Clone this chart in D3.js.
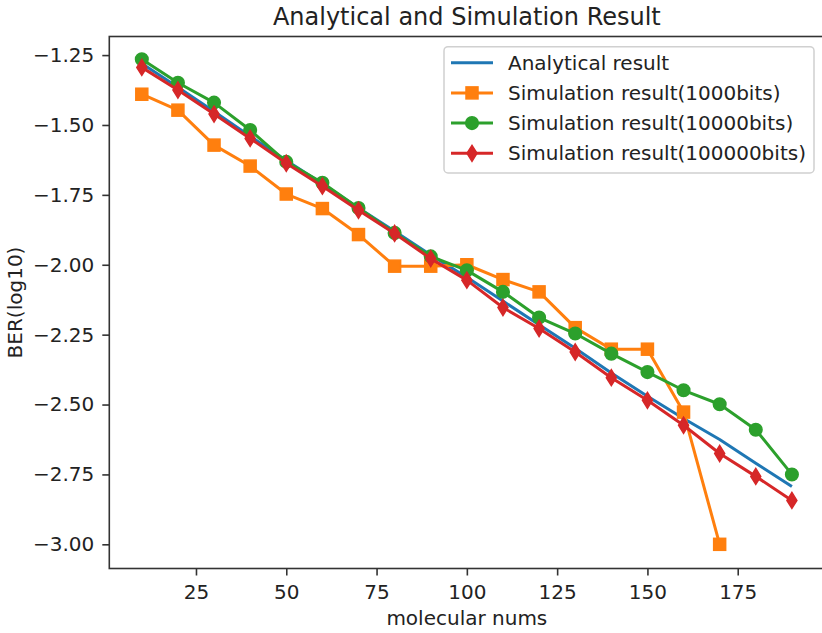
<!DOCTYPE html>
<html>
<head>
<meta charset="utf-8">
<script src="https://cdn.jsdelivr.net/npm/d3@7"></script>
<style>
  html, body { margin: 0; padding: 0; background: #fff; }
  svg { display: block; font-family: 'DejaVu Sans', sans-serif; }
</style>
</head>
<body>
<svg id="chart" width="822" height="633"></svg>
<script>
// values
const molecularNums = [10, 20, 30, 40, 50, 60, 70, 80, 90, 100, 110, 120, 130, 140, 150, 160, 170, 180, 190]
const analytical = [-1.28, -1.365, -1.452, -1.54, -1.627, -1.71, -1.797, -1.88, -1.965, -2.045, -2.13, -2.215, -2.299, -2.387, -2.47, -2.55, -2.625, -2.71, -2.793]
const sim1000 = [-1.39, -1.447, -1.572, -1.647, -1.747, -1.799, -1.892, -2.005, -2.005, -2.0, -2.053, -2.097, -2.225, -2.302, -2.302, -2.527, -3.0]
const sim10000 = [-1.265, -1.349, -1.42, -1.518, -1.632, -1.707, -1.797, -1.886, -1.97, -2.02, -2.097, -2.189, -2.246, -2.318, -2.384, -2.449, -2.499, -2.59, -2.75]
const sim100000 = [-1.294, -1.375, -1.461, -1.548, -1.637, -1.719, -1.805, -1.888, -1.978, -2.055, -2.153, -2.228, -2.312, -2.404, -2.485, -2.574, -2.675, -2.757, -2.843]
const xTicks = [25, 50, 75, 100, 125, 150, 175]
const yTicks = [-3.0, -2.75, -2.5, -2.25, -2.0, -1.75, -1.5, -1.25]

const series = [
  { name: 'Analytical result', values: analytical, color: '#1f77b4', marker: null },
  { name: 'Simulation result(1000bits)', values: sim1000, color: '#ff7f0e', marker: 'square' },
  { name: 'Simulation result(10000bits)', values: sim10000, color: '#2ca02c', marker: 'circle' },
  { name: 'Simulation result(100000bits)', values: sim100000, color: '#d62728', marker: 'diamond' }
]

const box = { left: 109.3, right: 824.4, top: 36.5, bottom: 568.5 }

const x = d3.scaleLinear().domain([1, 199]).range([box.left, box.right])
const y = d3.scaleLinear().domain([-3.0865, -1.1835]).range([box.bottom, box.top])

const svg = d3.select('#chart')
const minus = (v) => v.toFixed(2).replace('-', '\u2212')

/**
 * Appends one marker shape to a selection at (cx, cy).
 *
 * @param {*} sel The parent selection
 * @param {string} kind square, circle or diamond
 * @param {string} color Fill and stroke colour
 */
function addMarker (sel, kind, color, cx, cy) {
  if (kind === 'square') {
    sel.append('rect')
      .attr('x', cx - 6).attr('y', cy - 6)
      .attr('width', 12).attr('height', 12)
      .attr('fill', color).attr('stroke', color).attr('stroke-width', 1.5)
  } else if (kind === 'circle') {
    sel.append('circle')
      .attr('cx', cx).attr('cy', cy).attr('r', 6.3)
      .attr('fill', color).attr('stroke', color).attr('stroke-width', 1.5)
  } else if (kind === 'diamond') {
    sel.append('path')
      .attr('d', `M${cx},${cy - 8}L${cx + 5},${cy}L${cx},${cy + 8}L${cx - 5},${cy}Z`)
      .attr('fill', color).attr('stroke', color).attr('stroke-width', 1.5)
      .attr('stroke-linejoin', 'miter')
  }
}

// axes
const xAxis = svg.append('g').attr('transform', `translate(0,${box.bottom})`)
  .call(d3.axisBottom(x).tickValues(xTicks).tickSize(7).tickPadding(9).tickFormat(d3.format('d')))
const yAxis = svg.append('g').attr('transform', `translate(${box.left},0)`)
  .call(d3.axisLeft(y).tickValues(yTicks).tickSize(7).tickPadding(8).tickFormat(minus))

;[xAxis, yAxis].forEach((ax) => {
  ax.select('.domain').remove()
  ax.selectAll('line').attr('stroke', '#333').attr('stroke-width', 1.6)
  ax.selectAll('text').attr('fill', '#222').style('font-size', '20px').style('font-family', 'DejaVu Sans')
})

// spines (right one falls outside the picture)
svg.append('rect')
  .attr('x', box.left).attr('y', box.top)
  .attr('width', box.right - box.left).attr('height', box.bottom - box.top)
  .attr('fill', 'none').attr('stroke', '#333').attr('stroke-width', 1.6)

// lines and markers
const line = d3.line().x((d) => x(d[0])).y((d) => y(d[1]))
series.forEach((s) => {
  const pts = s.values.map((v, i) => [molecularNums[i], v])
  svg.append('path')
    .datum(pts)
    .attr('d', line)
    .attr('fill', 'none')
    .attr('stroke', s.color)
    .attr('stroke-width', 3)
    .attr('stroke-linejoin', 'round')
  if (s.marker) {
    const g = svg.append('g')
    pts.forEach((p) => addMarker(g, s.marker, s.color, x(p[0]), y(p[1])))
  }
})

// title and axis labels
svg.append('text')
  .attr('x', (box.left + box.right) / 2).attr('y', 24.5)
  .attr('text-anchor', 'middle')
  .style('font-size', '24px').attr('fill', '#222')
  .text('Analytical and Simulation Result')

svg.append('text')
  .attr('x', (box.left + box.right) / 2).attr('y', 625)
  .attr('text-anchor', 'middle')
  .style('font-size', '20px').attr('fill', '#222')
  .text('molecular nums')

svg.append('text')
  .attr('transform', `translate(22,${(box.top + box.bottom) / 2}) rotate(-90)`)
  .attr('text-anchor', 'middle')
  .style('font-size', '20px').attr('fill', '#222')
  .text('BER(log10)')

// legend
const legend = svg.append('g')
legend.append('rect')
  .attr('x', 444).attr('y', 46.7).attr('width', 370).attr('height', 126.3)
  .attr('rx', 4).attr('fill', '#fff').attr('fill-opacity', 0.8)
  .attr('stroke', '#d0d0d0').attr('stroke-width', 1.5)

series.forEach((s, i) => {
  const ly = 62.7 + i * 30.2
  legend.append('line')
    .attr('x1', 451).attr('x2', 493).attr('y1', ly).attr('y2', ly)
    .attr('stroke', s.color).attr('stroke-width', 3)
  if (s.marker) addMarker(legend, s.marker, s.color, 472, ly)
  legend.append('text')
    .attr('x', 508).attr('y', ly + 7)
    .style('font-size', '20px').attr('fill', '#222')
    .text(s.name)
})
</script>
</body>
</html>
